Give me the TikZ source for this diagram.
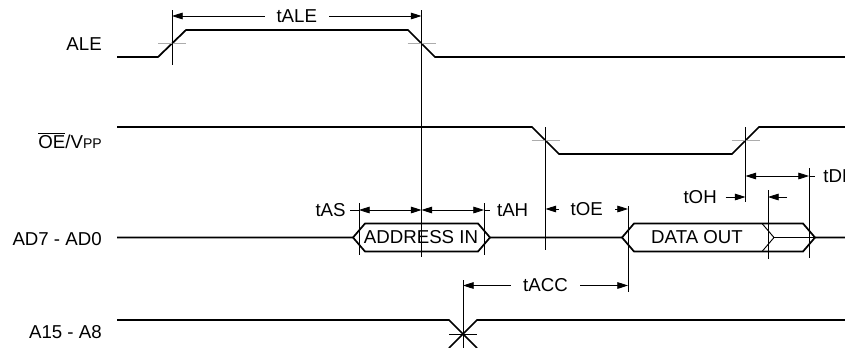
\documentclass[tikz,border=0pt]{standalone}
\usepackage{fontspec}
\setmainfont{Liberation Sans}
\usetikzlibrary{arrows.meta,positioning}

\begin{document}
\begin{tikzpicture}[x=0.75pt,y=-0.75pt,
    font=\fontsize{14}{16}\selectfont,
    sig/.style={line width=1.3pt,line join=miter},
    subsig/.style={line width=0.7pt},
    refline/.style={line width=0.6pt},
    tickmark/.style={line width=0.9pt,gray!65},
    dim/.style={line width=0.6pt,{Triangle[length=8pt,width=5pt]}-{Triangle[length=8pt,width=5pt]}},
    dimto/.style={line width=0.6pt,-{Triangle[length=8pt,width=5pt]}},
    signame/.style={anchor=base east,inner sep=0pt},
    dimlabel/.style={fill=white,inner xsep=9pt,inner ysep=1pt},
    timelabel/.style={inner sep=0pt}]
    \clip (0,0) rectangle (845,347);

    % signal names
    \node[signame] (ale) at (102,50.7) {ALE};
    \node[signame] (oe) at (102,148.3) {$\overline{\hbox{OE}}$/V{\fontsize{10.5}{12}\selectfont PP}};
    \node[signame] (ad) at (102,245) {AD7 - AD0};
    \node[signame] (ah) at (102,338.5) {A15 - A8};

    % waveforms
    \draw[sig] (117,57) -- (158,57) -- (186,30) -- (408,30) -- (435,57) -- (850,57);
    \draw[sig] (117,127) -- (532,127) -- (559,154) -- (732,154) -- (759,127) -- (850,127);
    \draw[sig] (117,237.5) -- (353,237.5) -- (365,223.5) -- (478,223.5) -- (490,237.5)
      -- (622,237.5) -- (634,223.5) -- (803,223.5) -- (815,237.5) -- (850,237.5);
    \draw[sig] (353,237.5) -- (365,251.5) -- (478,251.5) -- (490,237.5);
    \draw[sig] (622,237.5) -- (634,251.5) -- (803,251.5) -- (815,237.5);
    \draw[subsig] (762,223.5) -- (774,237.5) -- (762,251.5) (774,237.5) -- (815,237.5);
    \draw[sig] (117,320) -- (449,320) -- (477,348);
    \draw[sig] (850,320) -- (477,320) -- (449,348);
    \node (adrin) at (421,237.5) {ADDRESS IN};
    \node (datout) at (697,237.5) {DATA OUT};

    % timing points
    \coordinate (aleR) at (172,43.5);
    \coordinate (aleF) at (421.5,43.5);
    \coordinate (oeF) at (545.5,140.5);
    \coordinate (oeR) at (745.5,140.5);
    \coordinate (adrS) at (359,237.5);
    \coordinate (adrE) at (484,237.5);
    \coordinate (datS) at (628,237.5);
    \coordinate (datH) at (768,237.5);
    \coordinate (datF) at (809,237.5);
    \coordinate (hiX) at (463,334);

    % crossing marks and reference lines
    \foreach \p in {aleR,aleF,oeF,oeR}
      \draw[tickmark] (\p) +(-14,0) -- +(14,0);
    \draw[refline] (hiX) +(-14,0) -- +(14,0);
    \foreach \p/\a/\b in {aleR/10/65,aleF/10/257,oeF/127/250,oeR/127/202,
        adrS/203/255,adrE/203/255,datS/206/292,datH/190/259,datF/168/258,hiX/280/348}
      \draw[refline] (\p |- 0,\a) -- (\p |- 0,\b);

    % timings
    \draw[dim] (aleR |- 0,16) -- node[dimlabel] (tale) {tALE} (aleF |- 0,16);
    \draw[dim] (adrS |- 0,210) -- (aleF |- 0,210);
    \draw[dim] (aleF |- 0,210) -- (adrE |- 0,210);
    \draw[refline] (adrS |- 0,210) -- ++(-9,0) node[timelabel,left=3pt] (tas) {tAS};
    \draw[refline] (adrE |- 0,210) -- ++(6,0) node[timelabel,right=5pt] (tah) {tAH};
    \draw[dim] (oeF |- 0,209) -- node[dimlabel] (toe) {tOE} (datS |- 0,209);
    \node[timelabel,anchor=east] (toh) at (717,197) {tOH};
    \draw[dimto] (toh.east) ++(6.5pt,0) -- (oeR |- toh.east);
    \draw[dimto] (datH |- 0,197) ++(19,0) -- (datH |- 0,197);
    \draw[dim] (oeR |- 0,176) -- (datF |- 0,176);
    \draw[refline] (datF |- 0,176) -- ++(6,0) node[timelabel,right=6pt] (tdf) {tDF};
    \draw[dim] (hiX |- 0,285.5) -- node[dimlabel] (tacc) {tACC} (datS |- 0,285.5);
\end{tikzpicture}
\end{document}
